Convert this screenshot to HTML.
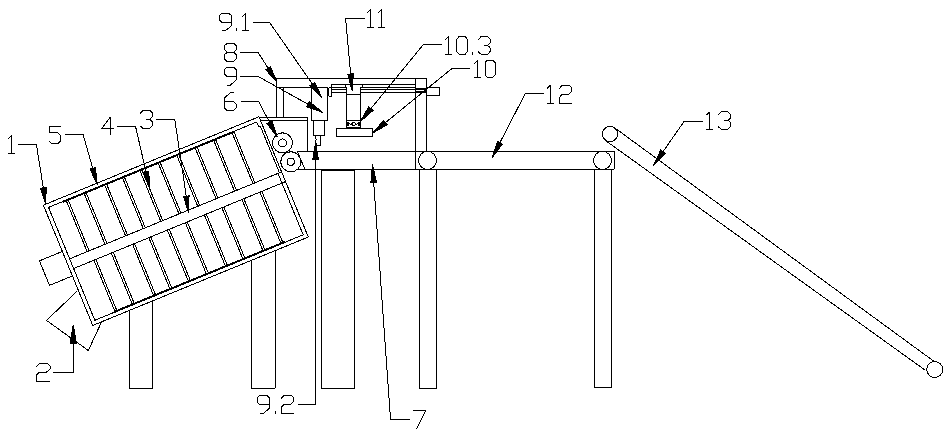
<!DOCTYPE html>
<html><head><meta charset="utf-8"><title>diagram</title>
<style>
html,body{margin:0;padding:0;background:#fff;}
body{width:950px;height:439px;overflow:hidden;font-family:"Liberation Sans",sans-serif;}
svg{display:block;}
svg line,svg polyline,svg polygon,svg rect,svg circle{fill:none;stroke:#000;stroke-width:1.0;stroke-linecap:butt;stroke-linejoin:bevel;}
svg rect,svg circle,svg polygon{fill:#fff;}
svg polygon.ah{fill:#000;stroke:#000;stroke-width:1;stroke-linejoin:miter;}
</style></head>
<body>
<svg width="950" height="439" viewBox="0 0 950 439" shape-rendering="crispEdges">
<circle cx="610.00" cy="134.00" r="7.60"/>
<circle cx="934.70" cy="369.50" r="8.00"/>
<line x1="614.60" y1="127.80" x2="933.50" y2="361.00"/>
<line x1="605.70" y1="140.70" x2="925.20" y2="370.20"/>
<line x1="297.30" y1="151.30" x2="614.40" y2="151.30"/>
<line x1="297.30" y1="169.40" x2="614.40" y2="169.40"/>
<line x1="614.40" y1="151.30" x2="614.40" y2="169.40"/>
<line x1="297.30" y1="151.30" x2="304.90" y2="169.40"/>
<circle cx="427.50" cy="160.40" r="9.00"/>
<circle cx="602.50" cy="160.40" r="9.00"/>
<rect x="321.40" y="170.60" width="33.00" height="217.60"/>
<rect x="419.60" y="169.40" width="16.80" height="218.80"/>
<rect x="594.50" y="169.40" width="16.90" height="217.90"/>
<line x1="276.60" y1="78.20" x2="426.60" y2="78.20"/>
<line x1="276.60" y1="78.20" x2="276.60" y2="117.40"/>
<line x1="283.70" y1="87.10" x2="283.70" y2="117.40"/>
<line x1="276.60" y1="87.10" x2="311.50" y2="87.10"/>
<line x1="415.90" y1="78.20" x2="415.90" y2="169.40"/>
<line x1="426.60" y1="78.20" x2="426.60" y2="151.30"/>
<line x1="331.30" y1="84.40" x2="415.90" y2="84.40"/>
<line x1="331.30" y1="84.40" x2="331.30" y2="92.40"/>
<line x1="331.30" y1="87.30" x2="346.80" y2="87.30"/>
<line x1="360.50" y1="87.30" x2="415.90" y2="87.30"/>
<line x1="331.30" y1="89.50" x2="346.80" y2="89.50"/>
<line x1="360.50" y1="89.50" x2="415.90" y2="89.50"/>
<line x1="415.90" y1="89.00" x2="426.60" y2="89.00" style="stroke-width:2"/>
<line x1="415.90" y1="92.00" x2="426.60" y2="92.00" style="stroke-width:2"/>
<line x1="331.30" y1="92.30" x2="346.80" y2="92.30"/>
<line x1="360.50" y1="92.30" x2="415.90" y2="92.30"/>
<rect x="426.60" y="87.20" width="13.00" height="8.30"/>
<rect x="328.90" y="87.70" width="2.40" height="8.60"/>
<line x1="345.60" y1="84.40" x2="345.60" y2="87.30"/>
<line x1="362.20" y1="84.40" x2="362.20" y2="87.30"/>
<line x1="346.80" y1="87.30" x2="346.80" y2="94.50"/>
<line x1="360.50" y1="87.30" x2="360.50" y2="94.50"/>
<rect x="346.80" y="94.50" width="13.70" height="33.10"/>
<line x1="346.80" y1="120.70" x2="360.50" y2="120.70"/>
<rect x="346.60" y="120.30" width="13.80" height="7.40"/>
<rect x="347" y="121.6" width="1.6" height="4.2" style="fill:#000;stroke:none"/>
<rect x="358.4" y="121.6" width="1.6" height="4.2" style="fill:#000;stroke:none"/>
<polygon points="351.6,124.0 353.7,122.0 355.8,124.0 353.7,126.0" style="fill:none;stroke:#000;stroke-width:1"/>
<polyline points="348.60,122.20 349.80,124.00 351.60,124.00" style="stroke-width:1.0"/>
<polyline points="355.80,124.00 357.40,124.00 358.40,122.20" style="stroke-width:1.0"/>
<rect x="336.30" y="128.30" width="36.40" height="8.20"/>
<rect x="311.50" y="87.10" width="16.20" height="33.00"/>
<rect x="313.50" y="120.10" width="11.30" height="15.20"/>
<polyline points="315.30,135.30 316.20,139.50 315.60,141.20 316.60,145.20 320.40,145.20 320.40,135.30"/>
<line x1="258.50" y1="117.40" x2="307.60" y2="117.40"/>
<line x1="260.00" y1="120.10" x2="307.60" y2="120.10"/>
<line x1="307.60" y1="117.40" x2="307.60" y2="151.30"/>
<circle cx="282.50" cy="142.90" r="10.00"/>
<circle cx="282.50" cy="142.90" r="4.00"/>
<circle cx="290.80" cy="161.80" r="10.00"/>
<circle cx="290.80" cy="161.80" r="3.60"/>
<rect x="129.20" y="290.00" width="23.20" height="98.20"/>
<rect x="251.50" y="240.00" width="23.50" height="148.20"/>
<polygon points="43.40,205.17 258.97,116.75 308.30,237.03 92.73,325.45"/>
<polyline points="279.46,172.77 260.26,125.95 259.09,126.54 256.51,122.09 48.52,207.39 94.82,320.26 303.18,234.81 281.96,183.09"/>
<line x1="277.98" y1="173.38" x2="281.96" y2="183.09"/>
<polygon points="39.43,260.84 62.37,251.43 72.43,275.95 49.48,285.36"/>
<polyline points="77.40,290.90 46.50,320.40 88.30,350.50 102.00,321.00"/>
<line x1="69.62" y1="258.83" x2="281.59" y2="171.90"/>
<line x1="73.61" y1="268.55" x2="285.57" y2="181.61"/>
<line x1="66.06" y1="200.20" x2="87.16" y2="251.64"/>
<line x1="68.00" y1="199.40" x2="89.10" y2="250.84"/>
<line x1="83.91" y1="192.87" x2="105.01" y2="244.32"/>
<line x1="85.86" y1="192.08" x2="106.95" y2="243.52"/>
<line x1="104.45" y1="184.45" x2="125.55" y2="235.89"/>
<line x1="106.40" y1="183.65" x2="127.49" y2="235.10"/>
<line x1="122.22" y1="177.17" x2="143.32" y2="228.61"/>
<line x1="124.16" y1="176.37" x2="145.26" y2="227.81"/>
<line x1="139.70" y1="169.99" x2="160.80" y2="221.44"/>
<line x1="141.65" y1="169.20" x2="162.74" y2="220.64"/>
<line x1="157.93" y1="162.52" x2="179.03" y2="213.96"/>
<line x1="159.87" y1="161.72" x2="180.97" y2="213.16"/>
<line x1="176.62" y1="154.85" x2="197.72" y2="206.29"/>
<line x1="178.56" y1="154.06" x2="199.66" y2="205.50"/>
<line x1="194.94" y1="147.34" x2="216.04" y2="198.78"/>
<line x1="196.88" y1="146.54" x2="217.98" y2="197.98"/>
<line x1="213.44" y1="139.75" x2="234.54" y2="191.19"/>
<line x1="215.39" y1="138.95" x2="236.48" y2="190.40"/>
<line x1="231.85" y1="132.20" x2="252.95" y2="183.64"/>
<line x1="233.80" y1="131.40" x2="254.90" y2="182.84"/>
<line x1="93.91" y1="260.22" x2="115.13" y2="311.94"/>
<line x1="95.86" y1="259.42" x2="117.07" y2="311.14"/>
<line x1="111.31" y1="253.08" x2="132.52" y2="304.80"/>
<line x1="113.25" y1="252.29" x2="134.46" y2="304.00"/>
<line x1="132.59" y1="244.36" x2="153.80" y2="296.07"/>
<line x1="134.53" y1="243.56" x2="155.74" y2="295.28"/>
<line x1="148.87" y1="237.68" x2="170.08" y2="289.40"/>
<line x1="150.82" y1="236.88" x2="172.03" y2="288.60"/>
<line x1="167.38" y1="230.09" x2="188.59" y2="281.81"/>
<line x1="169.32" y1="229.29" x2="190.53" y2="281.01"/>
<line x1="185.37" y1="222.71" x2="206.58" y2="274.43"/>
<line x1="187.31" y1="221.91" x2="208.53" y2="273.63"/>
<line x1="204.39" y1="214.91" x2="225.60" y2="266.63"/>
<line x1="206.33" y1="214.11" x2="227.54" y2="265.83"/>
<line x1="221.87" y1="207.74" x2="243.08" y2="259.46"/>
<line x1="223.81" y1="206.94" x2="245.03" y2="258.66"/>
<line x1="241.95" y1="199.50" x2="263.16" y2="251.22"/>
<line x1="243.89" y1="198.71" x2="265.10" y2="250.43"/>
<line x1="259.90" y1="192.14" x2="281.11" y2="243.86"/>
<line x1="261.84" y1="191.34" x2="283.05" y2="243.06"/>
<line x1="63.07" y1="201.75" x2="234.24" y2="131.55" style="stroke-width:2.0"/>
<line x1="114.69" y1="311.79" x2="284.93" y2="241.97" style="stroke-width:2.0"/>
<polyline points="18.20,144.40 36.40,144.40 45.90,204.10"/>
<polygon class="ah" points="45.95,204.40 40.54,188.25 46.07,187.36"/>
<polyline points="65.20,134.10 83.00,134.10 97.20,184.20"/>
<polygon class="ah" points="97.28,184.49 90.01,169.09 95.39,167.56"/>
<polyline points="117.30,126.30 135.50,126.30 149.70,187.70"/>
<polygon class="ah" points="149.77,187.99 143.25,172.26 148.71,170.99"/>
<polyline points="156.40,119.40 174.80,119.40 188.70,212.60"/>
<polygon class="ah" points="188.74,212.90 183.50,196.69 189.04,195.87"/>
<polyline points="52.80,372.30 73.30,372.30 73.30,325.10"/>
<polygon class="ah" points="73.30,324.80 76.40,343.10 70.20,343.10"/>
<polyline points="252.80,22.30 269.50,22.30 321.80,97.60"/>
<polygon class="ah" points="321.97,97.85 310.09,85.65 314.69,82.45"/>
<polyline points="240.00,52.20 258.00,52.20 276.90,82.10"/>
<polygon class="ah" points="277.06,82.35 265.72,69.65 270.45,66.66"/>
<polyline points="240.20,76.40 258.00,76.40 322.50,112.30"/>
<polygon class="ah" points="322.76,112.45 306.72,106.72 309.44,101.83"/>
<polyline points="241.40,101.40 258.50,101.40 277.30,136.90"/>
<polygon class="ah" points="277.44,137.17 267.10,123.63 272.05,121.01"/>
<polyline points="364.90,18.20 345.60,18.20 352.10,90.50"/>
<polygon class="ah" points="352.13,90.80 347.83,74.32 353.41,73.82"/>
<polyline points="442.00,44.60 423.30,44.60 360.50,121.30"/>
<polygon class="ah" points="360.31,121.53 368.79,106.76 373.12,110.31"/>
<polyline points="470.00,68.80 451.60,68.80 372.70,133.00"/>
<polygon class="ah" points="372.47,133.19 383.73,120.41 387.27,124.76"/>
<polyline points="543.80,93.90 525.10,93.90 492.30,157.40"/>
<polygon class="ah" points="492.16,157.67 497.38,141.46 502.36,144.03"/>
<polyline points="702.80,121.10 684.30,121.10 653.60,165.20"/>
<polygon class="ah" points="653.43,165.45 660.73,150.06 665.33,153.26"/>
<polyline points="297.50,404.30 315.30,404.30 315.60,142.50"/>
<polygon class="ah" points="315.60,142.20 318.38,159.00 312.78,159.00"/>
<polyline points="410.00,419.20 390.50,419.20 372.40,164.30"/>
<polygon class="ah" points="372.38,164.00 376.49,182.36 370.90,182.75"/>
<polyline points="8.40,138.90 11.80,135.50 11.80,153.70" style="stroke-width:1.0"/>
<line x1="8.40" y1="153.70" x2="15.00" y2="153.70" style="stroke-width:1.0"/>
<polyline points="60.60,126.40 49.20,126.40 49.20,132.80 57.86,132.80 60.60,135.57 60.60,140.93 57.86,143.70 51.94,143.70 49.20,140.93" style="stroke-width:1.0"/>
<polyline points="110.13,134.50 110.13,117.40 101.40,128.93 113.70,128.93" style="stroke-width:1.0"/>
<polyline points="140.00,113.68 143.22,110.20 149.67,110.20 152.40,113.13 152.40,116.79 149.67,119.17 146.20,119.17" style="stroke-width:1.0"/>
<polyline points="149.67,119.17 152.40,121.73 152.40,125.39 149.67,128.50 143.22,128.50 140.00,125.75" style="stroke-width:1.0"/>
<polyline points="36.40,366.59 39.53,363.30 47.01,363.30 50.00,366.27 50.00,369.17 46.26,372.20 39.53,372.20 36.40,375.17 36.40,381.10 50.00,381.10" style="stroke-width:1.0"/>
<polyline points="222.15,30.60 225.58,30.60 231.80,25.48 231.80,15.93 228.75,13.20 222.15,13.20 219.10,15.64 219.10,19.64 222.15,22.42 231.80,22.42" style="stroke-width:1.0"/>
<line x1="236.50" y1="27.60" x2="236.50" y2="30.60" style="stroke-width:1.0"/>
<polyline points="242.40,16.60 245.80,13.20 245.80,30.60" style="stroke-width:1.0"/>
<line x1="242.40" y1="30.60" x2="249.00" y2="30.60" style="stroke-width:1.0"/>
<polyline points="227.11,43.40 233.69,43.40 236.50,45.93 236.50,49.37 233.69,52.27 227.11,52.27 224.30,49.37 224.30,45.93 227.11,43.40" style="stroke-width:1.0"/>
<polyline points="227.11,52.27 224.30,54.98 224.30,58.78 227.11,61.50 233.69,61.50 236.50,58.78 236.50,54.98 233.69,52.27" style="stroke-width:1.0"/>
<polyline points="227.23,85.00 230.52,85.00 236.50,79.74 236.50,69.91 233.57,67.10 227.23,67.10 224.30,69.61 224.30,73.72 227.23,76.59 236.50,76.59" style="stroke-width:1.0"/>
<polyline points="233.69,92.30 230.52,92.30 224.30,98.31 224.30,107.59 227.11,110.50 233.69,110.50 236.50,107.59 236.50,104.31 233.69,101.40 224.30,101.40" style="stroke-width:1.0"/>
<polyline points="366.90,13.00 370.30,9.60 370.30,27.60" style="stroke-width:1.0"/>
<line x1="366.90" y1="27.60" x2="373.50" y2="27.60" style="stroke-width:1.0"/>
<polyline points="378.30,13.00 381.70,9.60 381.70,27.60" style="stroke-width:1.0"/>
<line x1="378.30" y1="27.60" x2="384.90" y2="27.60" style="stroke-width:1.0"/>
<polyline points="445.10,39.70 448.50,36.30 448.50,54.50" style="stroke-width:1.0"/>
<line x1="445.10" y1="54.50" x2="451.70" y2="54.50" style="stroke-width:1.0"/>
<polyline points="459.29,36.30 464.91,36.30 467.30,39.03 467.30,51.77 464.91,54.50 459.29,54.50 456.90,51.77 456.90,39.03 459.29,36.30" style="stroke-width:1.0"/>
<line x1="472.20" y1="51.50" x2="472.20" y2="54.50" style="stroke-width:1.0"/>
<polyline points="478.20,39.76 481.29,36.30 487.48,36.30 490.10,39.21 490.10,42.85 487.48,45.22 484.15,45.22" style="stroke-width:1.0"/>
<polyline points="487.48,45.22 490.10,47.77 490.10,51.41 487.48,54.50 481.29,54.50 478.20,51.77" style="stroke-width:1.0"/>
<polyline points="474.20,63.60 477.60,60.20 477.60,77.30" style="stroke-width:1.0"/>
<line x1="474.20" y1="77.30" x2="480.80" y2="77.30" style="stroke-width:1.0"/>
<polyline points="487.35,60.20 492.85,60.20 495.20,62.77 495.20,74.73 492.85,77.30 487.35,77.30 485.00,74.73 485.00,62.77 487.35,60.20" style="stroke-width:1.0"/>
<polyline points="547.20,88.50 550.60,85.10 550.60,103.60" style="stroke-width:1.0"/>
<line x1="547.20" y1="103.60" x2="553.80" y2="103.60" style="stroke-width:1.0"/>
<polyline points="559.40,88.52 562.25,85.10 569.07,85.10 571.80,88.19 571.80,91.20 568.39,94.35 562.25,94.35 559.40,97.44 559.40,103.60 571.80,103.60" style="stroke-width:1.0"/>
<polyline points="706.20,115.20 709.60,111.80 709.60,129.30" style="stroke-width:1.0"/>
<line x1="706.20" y1="129.30" x2="712.80" y2="129.30" style="stroke-width:1.0"/>
<polyline points="718.10,115.12 721.40,111.80 728.01,111.80 730.80,114.60 730.80,118.10 728.01,120.38 724.45,120.38" style="stroke-width:1.0"/>
<polyline points="728.01,120.38 730.80,122.83 730.80,126.33 728.01,129.30 721.40,129.30 718.10,126.68" style="stroke-width:1.0"/>
<polyline points="260.00,413.50 263.38,413.50 269.50,408.12 269.50,398.07 266.50,395.20 260.00,395.20 257.00,397.76 257.00,401.97 260.00,404.90 269.50,404.90" style="stroke-width:1.0"/>
<line x1="275.40" y1="410.50" x2="275.40" y2="413.50" style="stroke-width:1.0"/>
<polyline points="281.10,398.59 284.04,395.20 291.08,395.20 293.90,398.26 293.90,401.24 290.38,404.35 284.04,404.35 281.10,407.41 281.10,413.50 293.90,413.50" style="stroke-width:1.0"/>
<polyline points="413.00,410.40 425.80,410.40 416.58,428.70" style="stroke-width:1.0"/>
</svg>
</body></html>
